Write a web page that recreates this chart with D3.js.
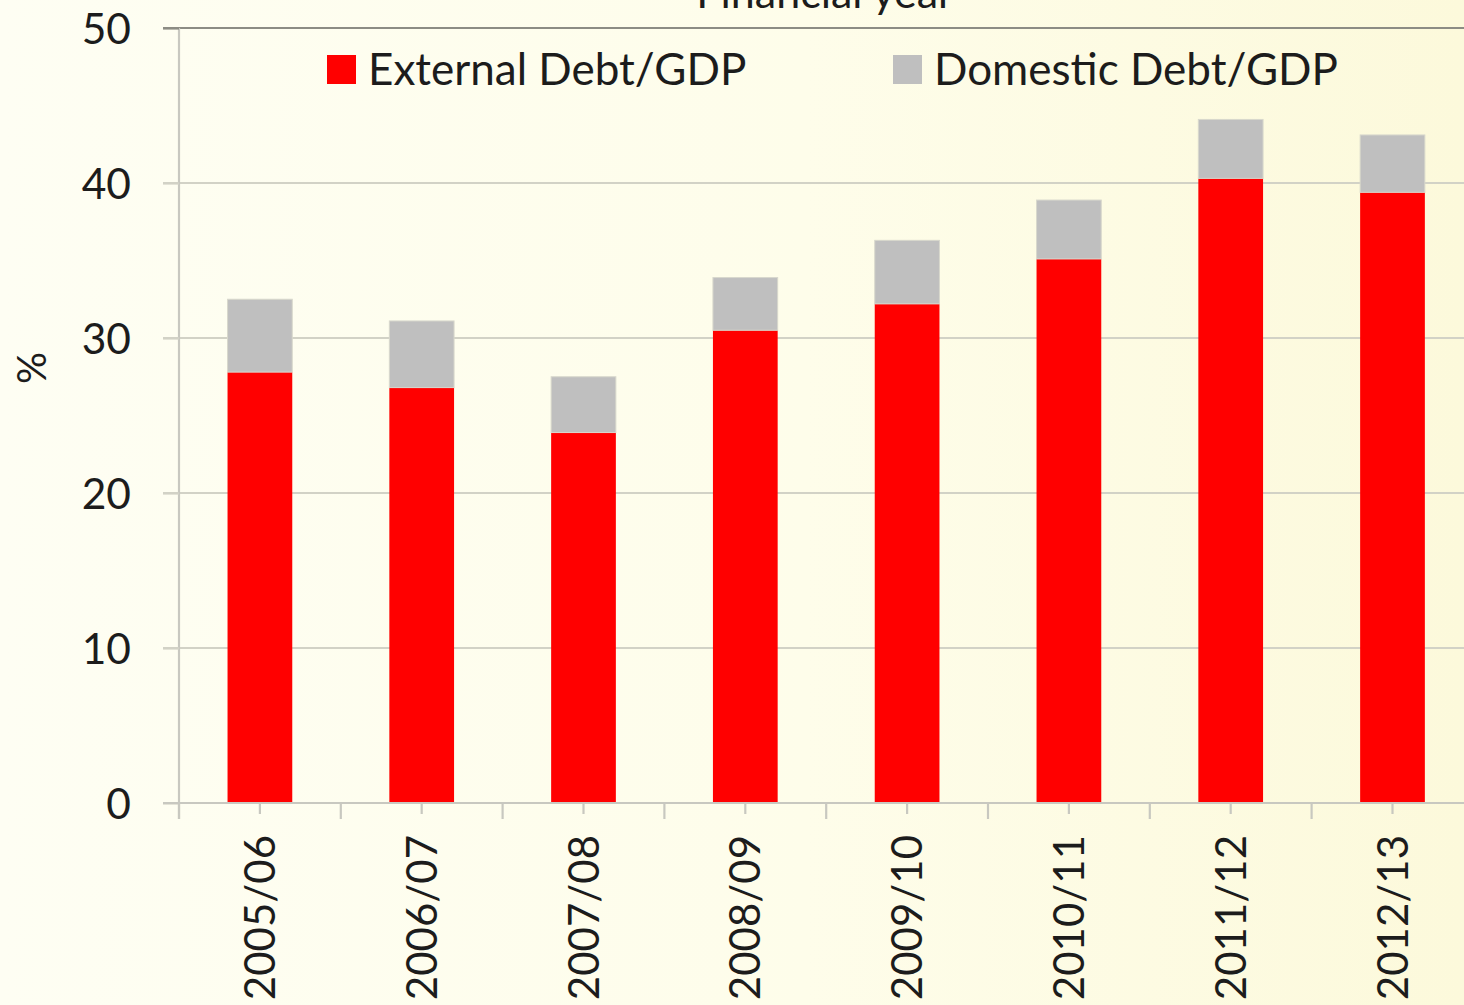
<!DOCTYPE html>
<html><head><meta charset="utf-8">
<script src="https://cdn.jsdelivr.net/npm/d3@7"></script>
<style>html,body{margin:0;padding:0;overflow:hidden;background:#fefef2}</style>
</head><body>
<svg id="c" width="1464" height="1005"></svg>
<script>
const categories = ["2005/06","2006/07","2007/08","2008/09","2009/10","2010/11","2011/12","2012/13"];
const externalDebt = [27.8, 26.8, 23.9, 30.5, 32.2, 35.1, 40.3, 39.4];
const domesticDebt = [4.7, 4.3, 3.6, 3.4, 4.1, 3.8, 3.8, 3.7];
const yTicks = [0, 10, 20, 30, 40, 50];
const seriesNames = ["External Debt/GDP", "Domestic Debt/GDP"];
const seriesColors = ["#ff0000", "#bfbfbf"];

const svg = d3.select("#c");
const W = 1464, H = 1005;
const defs = svg.append("defs");
const grad = defs.append("linearGradient").attr("id","bg").attr("x1","0").attr("x2","1").attr("y1","0").attr("y2","0");
grad.append("stop").attr("offset","0").attr("stop-color","#fefef3");
grad.append("stop").attr("offset","0.55").attr("stop-color","#fefdea");
grad.append("stop").attr("offset","1").attr("stop-color","#fcf9db");
svg.append("rect").attr("width",W).attr("height",H).attr("fill","url(#bg)");

const pLeft = 179, pRight = 179 + 8*161.8, pTop = 28, pBottom = 803;
const x = d3.scaleBand().domain(categories).range([pLeft, pRight]).paddingInner(0.6).paddingOuter(0.3);
const y = d3.scaleLinear().domain([0, 50]).range([pBottom, pTop]);
const font = "Lato, 'Open Sans', sans-serif";
const txt = "#1c1c1c";

// gridlines
const grid = svg.append("g");
grid.selectAll("line").data(yTicks.filter(d => d > 0)).join("line")
  .attr("x1", pLeft - 16).attr("x2", W)
  .attr("y1", d => y(d)).attr("y2", d => y(d))
  .attr("stroke", d => d === 50 ? "#8c8c84" : "#d2d2c6")
  .attr("stroke-width", 2.2);

// bars
const stack = categories.map((c, i) => ({c, e: externalDebt[i], d: domesticDebt[i]}));
const g = svg.append("g");
g.selectAll("rect.ext").data(stack).join("rect").attr("class","ext")
  .attr("x", d => x(d.c)).attr("width", x.bandwidth())
  .attr("y", d => y(d.e)).attr("height", d => y(0) - y(d.e))
  .attr("fill", seriesColors[0]);
g.selectAll("rect.dom").data(stack).join("rect").attr("class","dom")
  .attr("x", d => x(d.c)).attr("width", x.bandwidth())
  .attr("y", d => y(d.e + d.d)).attr("height", d => y(d.e) - y(d.e + d.d))
  .attr("fill", seriesColors[1]).attr("stroke","#d8d8cc").attr("stroke-width",1);

// y axis
const yAxis = d3.axisLeft(y).tickValues(yTicks).tickSize(16).tickPadding(32).tickFormat(d3.format("d"));
const ya = svg.append("g").attr("transform", `translate(${pLeft},0)`).call(yAxis);
ya.select(".domain").attr("stroke","#c8c8c0").attr("stroke-width",2.2).attr("d", `M0,${pTop}V${pBottom+16}`);
ya.selectAll(".tick line").attr("stroke", d => d === 50 ? "#8c8c84" : "#d2d2c6").attr("stroke-width",2.2);
ya.selectAll(".tick text").attr("font-family", font).attr("font-size", 42.5).attr("fill", txt).attr("dy","0.36em");

// x axis baseline
svg.append("line").attr("x1", pLeft-16).attr("x2", W).attr("y1", pBottom).attr("y2", pBottom)
  .attr("stroke","#c8c8c0").attr("stroke-width",2.2);
// boundary ticks
const bounds = categories.map(c => x(c) - x.step()*x.paddingInner()/2);
svg.append("g").selectAll("line").data(bounds).join("line")
  .attr("x1", d => d).attr("x2", d => d).attr("y1", pBottom).attr("y2", pBottom + 16)
  .attr("stroke","#c8c8c0").attr("stroke-width",2.2);
// center ticks + labels
const xa = svg.append("g").attr("transform", `translate(0,${pBottom})`)
  .call(d3.axisBottom(x).tickSize(11).tickPadding(0));
xa.select(".domain").remove();
xa.selectAll(".tick line").attr("stroke","#c8c8c0").attr("stroke-width",2.2);
xa.selectAll(".tick text")
  .attr("font-family", font).attr("font-size", 42).attr("fill", txt)
  .attr("transform", "translate(0,32) rotate(-90)")
  .attr("text-anchor","end").attr("x",0).attr("y",0).attr("dy","0.36em");

// y title
svg.append("text").attr("transform","translate(32,368) rotate(-90)")
  .attr("text-anchor","middle").attr("dy","0.36em")
  .attr("font-family", font).attr("font-size", 40).attr("fill", txt).text("%");

// top title (cut off at the top edge, as in the reference)
svg.append("text").attr("x", 825).attr("y", 8).attr("text-anchor","middle")
  .attr("font-family", font).attr("font-size", 43).attr("fill", txt).text("Financial year");

// legend
const legendX = [327, 893];
const lg = svg.append("g");
seriesNames.forEach((n, i) => {
  lg.append("rect").attr("x", legendX[i]).attr("y", 55).attr("width", 29).attr("height", 29)
    .attr("fill", seriesColors[i]);
  lg.append("text").attr("x", legendX[i] + 41).attr("y", 69.5).attr("dy","0.36em")
    .attr("font-family", font).attr("font-size", 44).attr("fill", txt).text(n);
});
</script>
</body></html>
